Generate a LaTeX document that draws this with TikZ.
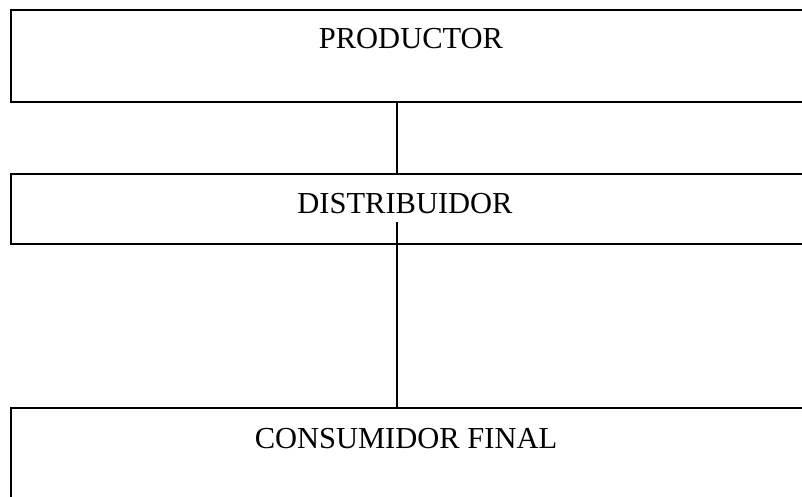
\documentclass[tikz,border=0pt]{standalone}
\usepackage{fontspec}
\setmainfont{Liberation Serif}
\begin{document}
\begin{tikzpicture}[x=1pt,y=-1pt,
  boxline/.style={draw=black,line width=2.5pt},
  conn/.style={draw=black,line width=2pt},
  lbl/.style={font=\fontsize{30.5}{32}\selectfont,inner sep=0pt,anchor=base}]
\useasboundingbox (0,0) rectangle (802,497);
\clip (0,0) rectangle (802,497);
\draw[boxline] (830,10) -- (11,10) -- (11,102) -- (830,102);
\draw[boxline] (830,174) -- (11,174) -- (11,244) -- (830,244);
\draw[boxline] (830,408) -- (11,408) -- (11,520);
\coordinate (prodB) at (396.5,102);
\coordinate (distT) at (396.5,174);
\coordinate (distM) at (396.5,222);
\coordinate (consT) at (396.5,408);
\node[lbl] (prod) at (411,49) {PRODUCTOR};
\node[lbl] (dist) at (405,213) {DISTRIBUIDOR};
\node[lbl] (cons) at (406,448) {CONSUMIDOR FINAL};
\draw[conn] (prodB) -- (distT);
\draw[conn] (distM) -- (consT);
\end{tikzpicture}
\end{document}
